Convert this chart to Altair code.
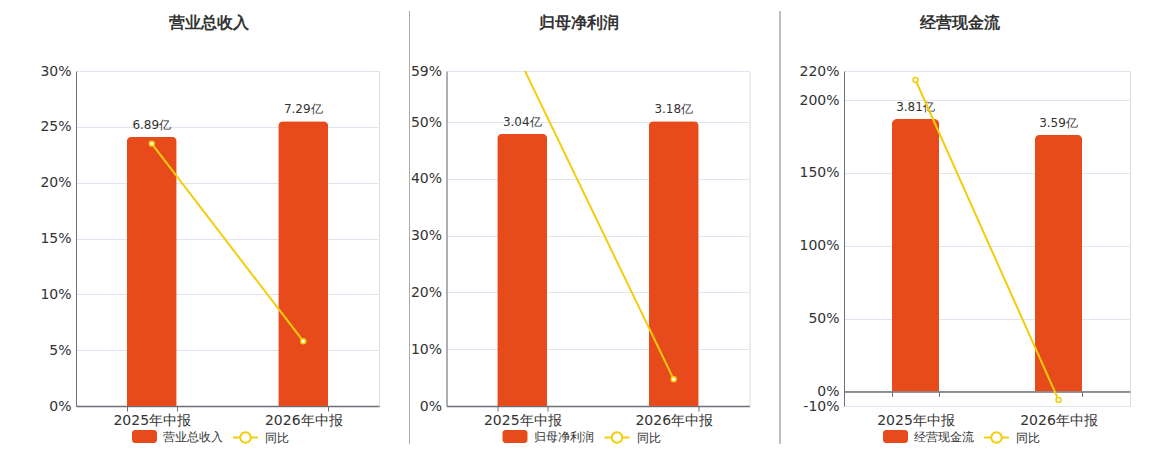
import altair as alt
import pandas as pd

categories = ["2025年中报", "2026年中报"]
titles = ["营业总收入", "归母净利润", "经营现金流"]
amounts = [[6.89, 7.29], [3.04, 3.18], [3.81, 3.59]]
amount_labels = [["6.89亿", "7.29亿"], ["3.04亿", "3.18亿"], ["3.81亿", "3.59亿"]]
yoy = [[23.5, 5.8], [60.0, 4.7], [213.8, -5.8]]
yoy_domains = [[0, 30], [0, 59], [-10, 220]]
yoy_ticks = [[0, 5, 10, 15, 20, 25, 30], [0, 10, 20, 30, 40, 50, 59], [-10, 0, 50, 100, 150, 200, 220]]
yoy_name = "同比"

RED = "#E84B1B"
YELLOW = "#F3CD0C"
AXIS = "#6E7079"
GRID = "#E0E6F1"
TEXT = "#333333"
SEP = "#AAAAAA"
FONT = "DejaVu Sans"
H = 335

BAR_PATH = ("M-0.76,-0.52 L0.76,-0.52 A0.24,0.24 0 0 1 1,-0.28 L1,0.28 "
            "A0.24,0.24 0 0 1 0.76,0.52 L-0.76,0.52 A0.24,0.24 0 0 1 -1,0.28 "
            "L-1,-0.28 A0.24,0.24 0 0 1 -0.76,-0.52 Z")
LINE_PATH = ("M-1,0 L-0.42,0 M0.42,0 L1,0 M0.42,0 A0.42,0.42 0 1 1 -0.42,0 "
             "A0.42,0.42 0 1 1 0.42,0")


def legend(x, y, path, stroke_w):
    return alt.Legend(title=None, orient="none", legendX=x, legendY=y,
                      symbolType=path, symbolSize=625, symbolStrokeWidth=stroke_w,
                      symbolFillColor="white",
                      labelFontSize=12, labelColor=TEXT, labelFont=FONT,
                      labelOffset=6, padding=0)


def panel(i, width, sep_x, sep_opacity, leg_x1, leg_x2, title_dx):
    df = pd.DataFrame({
        "period": categories,
        "amount": amounts[i],
        "label": amount_labels[i],
        "yoy": yoy[i],
        "series": titles[i],
        "yoyname": yoy_name,
    })
    lo, hi = yoy_domains[i]
    bar_hi = max(amounts[i]) / 0.85
    bar_lo = bar_hi * lo / hi
    bar_scale = alt.Scale(domain=[bar_lo, bar_hi], nice=False, zero=False)
    yoy_scale = alt.Scale(domain=[lo, hi], nice=False, zero=False)
    zero_off = H * (-lo) / (hi - lo)

    x_axis = alt.Axis(title=None, labelAngle=0, labelFontSize=14, labelColor=TEXT,
                      labelFont=FONT, labelPadding=2 + zero_off,
                      domainColor=AXIS, domainWidth=1.5, tickColor=AXIS,
                      tickSize=5, tickWidth=1, tickBand="extent",
                      offset=-zero_off, grid=False)
    base = alt.Chart(df).encode(
        x=alt.X("period:N", sort=categories,
                scale=alt.Scale(paddingInner=0.67, paddingOuter=0.335),
                axis=x_axis)
    )

    sep = alt.Chart(df).mark_rule(color=SEP, strokeWidth=1, opacity=sep_opacity).encode(
        x=alt.value(sep_x), y=alt.value(-60), y2=alt.value(H + 38)
    )

    bars = base.mark_bar(cornerRadiusTopLeft=5, cornerRadiusTopRight=5).encode(
        y=alt.Y("amount:Q", scale=bar_scale, axis=None),
        fill=alt.Fill("series:N", scale=alt.Scale(domain=[titles[i]], range=[RED]),
                      legend=legend(leg_x1, 353, BAR_PATH, 0)),
    )
    labels = base.mark_text(dy=-12, fontSize=12, color=TEXT, font=FONT).encode(
        y=alt.Y("amount:Q", scale=bar_scale, axis=None),
        text="label:N",
    )
    line = base.mark_line(strokeWidth=2, clip=True).encode(
        y=alt.Y("yoy:Q", scale=yoy_scale,
                axis=alt.Axis(title=None, values=yoy_ticks[i],
                              labelExpr="datum.value + '%'",
                              labelFontSize=14, labelColor=TEXT, labelFont=FONT,
                              labelPadding=5, ticks=False,
                              domainColor=AXIS, domainWidth=1,
                              grid=True, gridColor=GRID, gridWidth=1)),
        stroke=alt.Stroke("yoyname:N", scale=alt.Scale(domain=[yoy_name], range=[YELLOW]),
                          legend=legend(leg_x2, 353, LINE_PATH, 2)),
    )
    points = base.mark_point(shape="circle", size=24, filled=False, fill="white",
                             fillOpacity=1, stroke=YELLOW, strokeWidth=1.5,
                             opacity=1, clip=True).encode(
        y=alt.Y("yoy:Q", scale=yoy_scale, axis=None)
    )

    return alt.layer(sep, bars, labels, line, points).resolve_scale(
        y="independent"
    ).properties(
        width=width, height=H,
        title=alt.TitleParams(titles[i], fontSize=16, fontWeight="bold", color=TEXT,
                              font=FONT, offset=-20, dx=title_dx, anchor="middle",
                              frame="bounds"),
    )


p1 = panel(0, 303, 0, 0, 56, 156, 0)
p2 = panel(1, 303, -37, 1, 56, 157, 0)
p3 = panel(2, 286, -64, 1, 39, 139, 5)

chart = alt.hconcat(p1, p2, p3, spacing=28.5).resolve_scale(
    fill="independent", stroke="independent", x="independent"
).resolve_legend(
    fill="independent", stroke="independent"
).properties(
    padding={"left": 31, "top": 2, "right": 5, "bottom": 0}
).configure_view(strokeOpacity=0).configure(font=FONT)

chart.save("out.html", embed_options={"renderer": "svg", "actions": False})
